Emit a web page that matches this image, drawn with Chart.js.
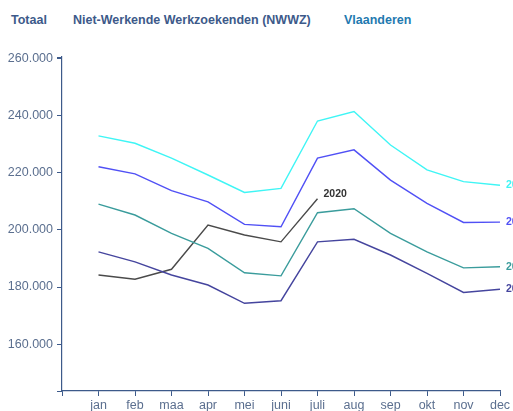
<!DOCTYPE html>
<html>
<head>
<meta charset="utf-8">
<script src="https://cdn.jsdelivr.net/npm/chart.js@4/dist/chart.umd.min.js"></script>
<style>
  html, body { margin: 0; padding: 0; background: #fff; }
  #wrap { position: relative; width: 513px; height: 411px; overflow: hidden; font-family: "Liberation Sans", Arial, sans-serif; }
  .hd { position: absolute; top: 13px; font-size: 12.5px; font-weight: bold; color: #3d5a8a; white-space: nowrap; }
  canvas { position: absolute; left: 0; top: 0; }
</style>
</head>
<body>
<div id="wrap">
  <div class="hd" style="left:11px">Totaal</div>
  <div class="hd" style="left:73px">Niet-Werkende Werkzoekenden (NWWZ)</div>
  <div class="hd" style="left:344px;color:#1f7ab0">Vlaanderen</div>
  <canvas id="c" width="513" height="411"></canvas>
</div>
<script>
  // maanden + reeksen (aantal NWWZ per maand)
  const maanden = ["jan", "feb", "maa", "apr", "mei", "juni", "juli", "aug", "sep", "okt", "nov", "dec"];
  const jaren = ["2016", "2017", "2018", "2019", "2020"];
  const kleuren = ["#3ff5f5", "#5050f5", "#3a9c9c", "#45459e", "#4a4a4a"];
  const nwwz2016 = [232900, 230300, 225100, 219200, 213100, 214500, 238100, 241400, 229700, 221000, 216900, 215600];
  const nwwz2017 = [222100, 219600, 213700, 209800, 201900, 201100, 225100, 228000, 217400, 209300, 202600, 202700];
  const nwwz2018 = [209000, 205200, 198800, 193500, 185000, 183900, 206000, 207400, 198800, 192300, 186700, 187100];
  const nwwz2019 = [192300, 188800, 184200, 180700, 174300, 175200, 195800, 196700, 191200, 184800, 178100, 179200];
  const nwwz2020 = [184200, 182700, 186200, 201700, 198200, 195800, 210900];
  const yTicks = [160000, 180000, 200000, 220000, 240000, 260000];
  const Y_MIN = 143600, Y_MAX = 260500;

  const reeksen = [nwwz2016, nwwz2017, nwwz2018, nwwz2019, nwwz2020];
  const asKleur = "#3d5a8a", tickKleur = "#5b6f8f";
  const fmt = v => v.toLocaleString("nl-BE");

  // jaartal aan het einde van elke lijn
  const eindLabels = {
    id: "eindLabels",
    afterDatasetsDraw(chart) {
      const ctx = chart.ctx;
      ctx.save();
      ctx.font = "bold 10.5px 'Liberation Sans', Arial, sans-serif";
      ctx.textBaseline = "middle";
      chart.data.datasets.forEach((ds, i) => {
        const pts = chart.getDatasetMeta(i).data;
        const p = pts[pts.length - 1];
        const is2020 = ds.label === "2020";
        ctx.fillStyle = is2020 ? "#333" : ds.borderColor;
        ctx.fillText(ds.label, p.x + 6, p.y + (is2020 ? -5 : 0));
      });
      ctx.restore();
    }
  };

  new Chart(document.getElementById("c"), {
    type: "line",
    data: {
      datasets: reeksen.map((r, i) => ({
        label: jaren[i],
        data: r.map((v, j) => ({ x: j + 1, y: v })),
        borderColor: kleuren[i], borderWidth: 1.4, pointRadius: 0, tension: 0, fill: false
      }))
    },
    options: {
      responsive: false, animation: false,
      layout: { padding: { top: 57, right: 13, left: 0, bottom: 0 } },
      plugins: { legend: { display: false }, tooltip: { enabled: false } },
      scales: {
        x: {
          type: "linear", min: 0, max: 12,
          afterBuildTicks: s => { s.ticks = maanden.map((m, j) => ({ value: j + 1 })); s.ticks.unshift({ value: 0 }); },
          afterFit: s => { s.height = 20; },
          ticks: { autoSkip: false, maxRotation: 0, padding: 2, color: tickKleur, font: { family: "'Liberation Sans', Arial, sans-serif", size: 12.5 },
                   callback: v => maanden[v - 1] || "" },
          grid: { drawOnChartArea: false, drawTicks: true, tickLength: 5, color: asKleur },
          border: { color: asKleur, width: 1.2 }
        },
        y: {
          min: Y_MIN, max: Y_MAX,
          afterBuildTicks: s => { s.ticks = [Y_MIN].concat(yTicks, [Y_MAX]).map(v => ({ value: v })); },
          afterFit: s => { s.width = 62; },
          ticks: { autoSkip: false, padding: 4, color: tickKleur, font: { family: "'Liberation Sans', Arial, sans-serif", size: 12.5 },
                   callback: v => yTicks.includes(v) ? fmt(v) : "" },
          grid: { drawOnChartArea: false, drawTicks: true, tickLength: 5, color: asKleur },
          border: { color: asKleur, width: 1.2 }
        }
      }
    },
    plugins: [eindLabels]
  });
</script>
</body>
</html>
